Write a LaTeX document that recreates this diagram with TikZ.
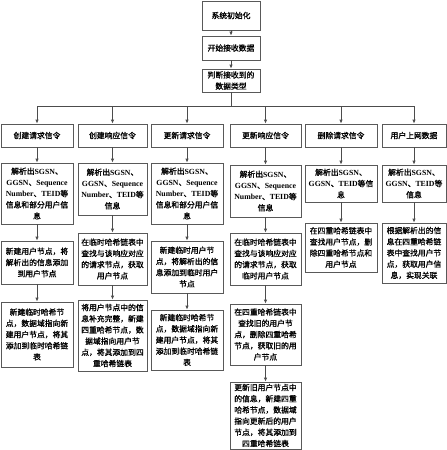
\documentclass[tikz,border=0pt]{standalone}
\usepackage{fontspec}
\setmainfont{Liberation Serif}
\newfontfamily\cjk[AutoFakeBold=1.2]{Noto Sans CJK SC}
\usetikzlibrary{arrows.meta}
\newcommand{\en}[1]{{\rmfamily\bfseries #1}}
\tikzset{
  box/.style={draw=black!65, line width=0.8pt, align=center, inner sep=1pt,
    font=\cjk\bfseries\fontsize{7.8}{11.2}\selectfont},
  arr/.style={draw=black!70, line width=0.8pt, -{Latex[length=4pt,width=3.5pt]}},
}
\begin{document}
\begin{tikzpicture}[x=1pt, y=-1pt]
  \useasboundingbox (0,0) rectangle (447,450);

  % top of the flow
  \node[box, minimum width=58pt, minimum height=29pt] (init) at (231,15.5) {系统初始化};
  \node[box, minimum width=58pt, minimum height=24pt] (recv) at (231,48) {开始接收数据};
  \node[box, minimum width=58pt, minimum height=23pt] (judge) at (231,80.5) {判断接收到的\\数据类型};
  \coordinate (bus) at (231,106);

  % signal types
  \node[box, minimum width=72pt, minimum height=23pt] (t1) at (37,135.5) {创建请求信令};
  \node[box, minimum width=69pt, minimum height=23pt] (t2) at (112.5,135.5) {创建响应信令};
  \node[box, minimum width=72pt, minimum height=23pt] (t3) at (187,135.5) {更新请求信令};
  \node[box, minimum width=71pt, minimum height=23pt] (t4) at (265.5,135.5) {更新响应信令};
  \node[box, minimum width=72pt, minimum height=23pt] (t5) at (341,135.5) {删除请求信令};
  \node[box, minimum width=64pt, minimum height=23pt] (t6) at (414,135.5) {用户上网数据};

  % parsing
  \node[box, minimum width=72pt, minimum height=61pt] (p1) at (37,193.5)
    {解析出\en{SGSN}、\\\en{GGSN}、\en{Sequence}\\\en{Number}、\en{TEID}等\\信息和部分用户信\\息};
  \node[box, minimum width=69pt, minimum height=52pt] (p2) at (112.5,189)
    {解析出\en{SGSN}、\\\en{GGSN}、\en{Sequence}\\\en{Number}、\en{TEID}等\\信息};
  \node[box, minimum width=72pt, minimum height=61pt] (p3) at (187,193.5)
    {解析出\en{SGSN}、\\\en{GGSN}、\en{Sequence}\\\en{Number}、\en{TEID}等\\信息和部分用户信\\息};
  \node[box, minimum width=71pt, minimum height=52pt] (p4) at (265.5,191)
    {解析出\en{SGSN}、\\\en{GGSN}、\en{Sequence}\\\en{Number}、\en{TEID}等\\信息};
  \node[box, minimum width=72pt, minimum height=37pt] (p5) at (341,183.5)
    {解析出\en{SGSN}、\\\en{GGSN}、\en{TEID}等信\\息};
  \node[box, minimum width=64pt, minimum height=37pt] (p6) at (414,183.5)
    {解析出\en{SGSN}、\\\en{GGSN}、\en{TEID}等\\信息};

  % lookup / create
  \node[box, minimum width=72pt, minimum height=43pt] (q1) at (37,262.5)
    {新建用户节点，将\\解析出的信息添加\\到用户节点};
  \node[box, minimum width=69pt, minimum height=52pt] (q2) at (112.5,259)
    {在临时哈希链表中\\查找与该响应对应\\的请求节点，获取\\用户节点};
  \node[box, minimum width=72pt, minimum height=52pt] (q3) at (187,267)
    {新建临时用户节\\点，将解析出的信\\息添加到临时用户\\节点};
  \node[box, minimum width=71pt, minimum height=52pt] (q4) at (265.5,259)
    {在临时哈希链表中\\查找与该响应对应\\的请求节点，获取\\临时用户节点};
  \node[box, minimum width=72pt, minimum height=49pt] (q5) at (341,247.5)
    {在四重哈希链表中\\查找用户节点，删\\除四重哈希节点和\\用户节点};
  \node[box, minimum width=64pt, minimum height=60pt] (q6) at (414,253)
    {根据解析出的信\\息在四重哈希链\\表中查找用户节\\点，获取用户信\\息，实现关联};

  % hash nodes
  \node[box, minimum width=72pt, minimum height=65pt] (s1) at (37,334.5)
    {新建临时哈希节\\点，数据域指向新\\建用户节点，将其\\添加到临时哈希链\\表};
  \node[box, minimum width=69pt, minimum height=71pt] (s2) at (112.5,335.5)
    {将用户节点中的信\\息补充完整，新建\\四重哈希节点，数\\据域指向用户节\\点，将其添加到四\\重哈希链表};
  \node[box, minimum width=72pt, minimum height=60pt] (s3) at (187,340)
    {新建临时哈希节\\点，数据域指向新\\建用户节点，将其\\添加到临时哈希链\\表};
  \node[box, minimum width=71pt, minimum height=61pt] (s4) at (265.5,334.5)
    {在四重哈希链表中\\查找旧的用户节\\点，删除四重哈希\\节点，获取旧的用\\户节点};
  \node[box, minimum width=71pt, minimum height=67pt] (u4) at (265.5,415.5)
    {更新旧用户节点中\\的信息，新建四重\\哈希节点，数据域\\指向更新后的用户\\节点，将其添加到\\四重哈希链表};

  \draw[arr] (init) -- (recv);
  \draw[arr] (recv) -- (judge);
  \draw[draw=black!70, line width=0.8pt] (judge) -- (bus);
  \draw[draw=black!70, line width=0.8pt] (bus -| t1) -- (bus -| t6);
  \foreach \c in {1,...,6} {
    \draw[arr] (bus -| t\c) -- (t\c);
    \draw[arr] (t\c) -- (p\c);
    \draw[arr] (p\c) -- (q\c);
  }
  \foreach \c in {1,...,4}
    \draw[arr] (q\c) -- (s\c);
  \draw[arr] (s4) -- (u4);
\end{tikzpicture}
\end{document}
